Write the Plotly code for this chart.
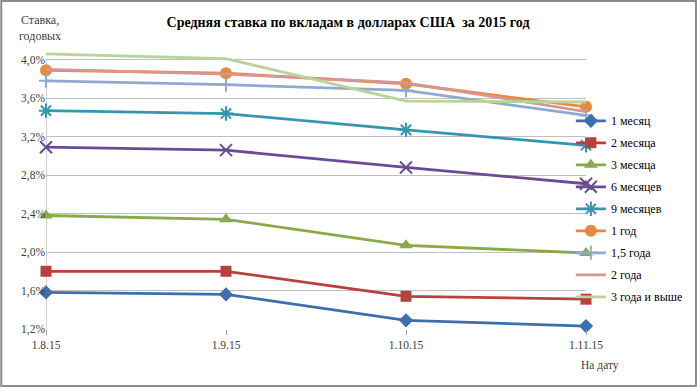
import plotly.graph_objects as go

dates = ["1.8.15", "1.9.15", "1.10.15", "1.11.15"]
m1 = [1.58, 1.56, 1.29, 1.23]
m2 = [1.80, 1.80, 1.54, 1.51]
m3 = [2.38, 2.34, 2.07, 1.99]
m6 = [3.09, 3.06, 2.88, 2.71]
m9 = [3.47, 3.44, 3.27, 3.11]
y1 = [3.89, 3.86, 3.75, 3.51]
y15 = [3.78, 3.74, 3.68, 3.42]
y2 = [3.90, 3.85, 3.76, 3.46]
y3 = [4.06, 4.01, 3.57, 3.56]
y_ticks = [1.2, 1.6, 2.0, 2.4, 2.8, 3.2, 3.6, 4.0]
y_ticktext = ["1,2%", "1,6%", "2,0%", "2,4%", "2,8%", "3,2%", "3,6%", "4,0%"]

series = [
    ("1 месяц", m1, "#3D6EAE", "diamond", 11),
    ("2 месяца", m2, "#B8403D", "square", 11),
    ("3 месяца", m3, "#8AA948", "triangle-up", 12),
    ("6 месяцев", m6, "#6A4C93", "x-thin-open", 12),
    ("9 месяцев", m9, "#3596AE", "asterisk-open", 12),
    ("1 год", y1, "#E8893E", "circle", 12),
    ("1,5 года", y15, "#90A9D2", "cross-thin-open", 10),
    ("2 года", y2, "#D69794", None, 0),
    ("3 года и выше", y3, "#B9D39C", None, 0),
]

W, H = 700, 387
L, R, T, B = 46, 112, 52, 58
pw, ph = W - L - R, H - T - B
FONT = "Liberation Serif"

fig = go.Figure()
for name, vals, col, sym, sz in series:
    if sym is None:
        fig.add_trace(go.Scatter(x=list(range(len(dates))), y=vals, name=name, mode="lines",
                                 legendgroup=name,
                                 line=dict(color=col, width=2.8), cliponaxis=False))
    else:
        mk = dict(symbol=sym, size=sz, color=col, line=dict(color=col, width=2 if "open" in sym else 0))
        fig.add_trace(go.Scatter(x=list(range(len(dates))), y=vals, name=name, mode="lines+markers",
                                 legendgroup=name,
                                 line=dict(color=col, width=2.8), marker=mk, cliponaxis=False))

# axis line from 1.2 to 4.0
fig.add_shape(type="line", xref="x", yref="y", x0=0, x1=0, y0=1.2, y1=4.0,
              line=dict(color="#A6A6A6", width=1), layer="below")
# outer frame
fig.add_shape(type="rect", xref="paper", yref="paper",
              x0=-L / pw + 0.002, x1=(W - L) / pw - 0.003,
              y0=-B / ph + 0.004, y1=(H - B) / ph - 0.004,
              line=dict(color="#8C8C8C", width=2))

fig.update_layout(
    width=W, height=H,
    margin=dict(l=L, r=R, t=T, b=B),
    paper_bgcolor="white", plot_bgcolor="white",
    font=dict(family=FONT, size=11, color="#404040"),
    title=dict(text="<b>Средняя ставка по вкладам в долларах США  за 2015 год</b>",
               x=348 / W, xanchor="center", y=1 - 22 / H, yanchor="middle",
               font=dict(family=FONT, size=14, color="#000000")),
    xaxis=dict(range=[0, 3], tickmode="array", tickvals=list(range(len(dates))), ticktext=dates,
               showgrid=False, zeroline=False, ticks="outside", ticklen=5, tickcolor="#A6A6A6",
               showline=False, tickfont=dict(family=FONT, size=11.5, color="#404040")),
    yaxis=dict(range=[1.2, 4.08], tickmode="array", tickvals=y_ticks, ticktext=y_ticktext,
               showgrid=True, gridcolor="#BFBFBF", gridwidth=1, zeroline=False,
               ticks="", showline=False, tickfont=dict(family=FONT, size=11.5, color="#404040")),
    legend=dict(x=0.972, xanchor="left", y=0.804, yanchor="top",
                bgcolor="rgba(0,0,0,0)", font=dict(family=FONT, size=12, color="#000000"),
                tracegroupgap=3, itemwidth=30),
    annotations=[
        dict(text="Ставка,<br>годовых", xref="paper", yref="paper",
             x=-6 / pw, y=1 + (T - 28) / ph, xanchor="center", yanchor="middle",
             showarrow=False, font=dict(family=FONT, size=12, color="#404040")),
        dict(text="На дату", xref="paper", yref="paper",
             x=(602 - L) / pw, y=-(365 - (H - B)) / ph, xanchor="center", yanchor="middle",
             showarrow=False, font=dict(family=FONT, size=11.5, color="#404040")),
    ],
)

fig.write_html("out.html", config={"displayModeBar": False},
               post_script="document.body.style.margin='0';")
